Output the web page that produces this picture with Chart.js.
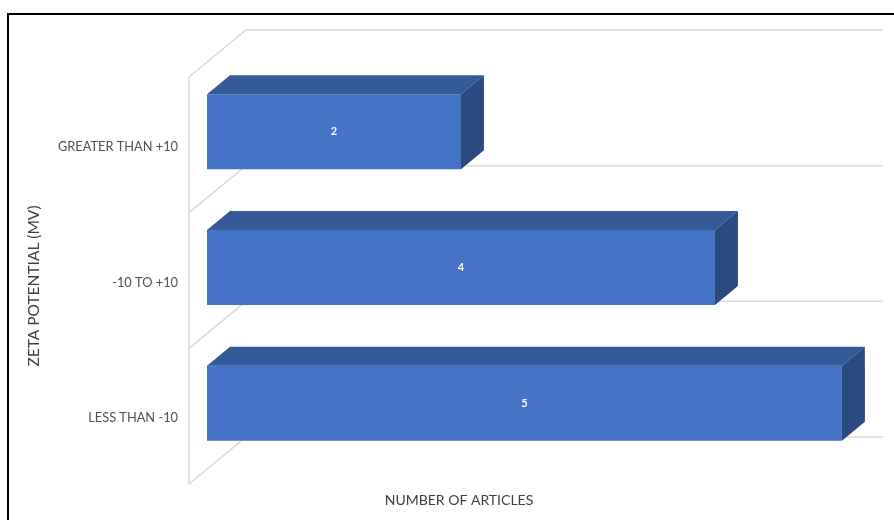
<!DOCTYPE html>
<html>
<head>
<meta charset="utf-8">
<script src="https://cdn.jsdelivr.net/npm/chart.js@4.4.1/dist/chart.umd.min.js"></script>
<style>
  html, body { margin: 0; padding: 0; background: #fff; }
  #wrap { width: 894px; height: 520px; }
</style>
</head>
<body>
<div id="wrap"><canvas id="zetaChart" width="894" height="520"></canvas></div>
<script>
// categories top to bottom, as in the picture
const categories = ["GREATER THAN +10", "-10 TO +10", "LESS THAN -10"];
const articleCounts = [2, 4, 5];
const xTitle = "NUMBER OF ARTICLES";
const yTitle = "ZETA POTENTIAL (MV)";

const FRONT = "#4472C4";
const TOP = "#345A97";
const SIDE = "#2B4A80";
const WALL = "#D9D9D9";

// fake 3d: walls, bar faces, labels, titles
const threeD = {
  id: "threeD",
  beforeDraw(chart) {
    const ctx = chart.ctx;
    ctx.save();
    ctx.fillStyle = "#000";
    ctx.fillRect(7, 13, 894 - 7, 2);
    ctx.fillRect(7, 13, 2, 520 - 13);
    ctx.restore();
  },
  beforeDatasetsDraw(chart) {
    const ctx = chart.ctx;
    const y = chart.scales.y;
    const area = chart.chartArea;
    const step = (y.bottom - y.top) / categories.length;
    const fx = area.left - 18, bx = area.left + 39;
    ctx.save();
    ctx.strokeStyle = WALL;
    ctx.lineWidth = 1.5;
    ctx.beginPath();
    ctx.moveTo(fx, y.top + 13);
    ctx.lineTo(fx, y.bottom + 13);
    for (let i = 0; i <= categories.length; i++) {
      const b = y.top + i * step;
      ctx.moveTo(fx, b + 13);
      ctx.lineTo(bx, b - 34);
      ctx.lineTo(883, b - 34);
    }
    ctx.stroke();
    ctx.restore();
  },
  afterDatasetsDraw(chart) {
    const ctx = chart.ctx;
    const dx = 23, dy = -19;
    ctx.save();
    chart.getDatasetMeta(0).data.forEach((bar, i) => {
      const x0 = bar.base, x1 = bar.x;
      const top = bar.y - bar.height / 2, bot = bar.y + bar.height / 2;
      ctx.fillStyle = TOP;
      ctx.beginPath();
      ctx.moveTo(x0, top);
      ctx.lineTo(x0 + dx, top + dy);
      ctx.lineTo(x1 + dx, top + dy);
      ctx.lineTo(x1, top);
      ctx.closePath();
      ctx.fill();
      ctx.fillStyle = SIDE;
      ctx.beginPath();
      ctx.moveTo(x1, top);
      ctx.lineTo(x1 + dx, top + dy);
      ctx.lineTo(x1 + dx, bot + dy);
      ctx.lineTo(x1, bot);
      ctx.closePath();
      ctx.fill();
      ctx.fillStyle = "#fff";
      ctx.font = "bold 11px Lato";
      ctx.textAlign = "center";
      ctx.textBaseline = "middle";
      ctx.fillText(String(articleCounts[i]), (x0 + x1) / 2, bar.y);
    });
    ctx.restore();
  },
  afterDraw(chart) {
    const ctx = chart.ctx;
    ctx.save();
    ctx.fillStyle = "#404040";
    ctx.font = "14px Lato";
    ctx.textAlign = "center";
    ctx.textBaseline = "middle";
    ctx.fillText(xTitle, 459, 500);
    ctx.font = "15.5px Lato";
    ctx.translate(34, 286);
    ctx.rotate(-Math.PI / 2);
    ctx.fillText(yTitle, 0, 0);
    ctx.restore();
  },
};

new Chart(document.getElementById("zetaChart"), {
  type: "bar",
  data: {
    labels: categories,
    datasets: [
      {
        label: xTitle,
        data: articleCounts,
        backgroundColor: FRONT,
        categoryPercentage: 1,
        barPercentage: 0.553,
      },
    ],
  },
  options: {
    indexAxis: "y",
    responsive: false,
    animation: false,
    layout: { padding: { left: 0, top: 64, right: 14, bottom: 49 } },
    plugins: {
      legend: { display: false },
      tooltip: { enabled: false },
    },
    scales: {
      x: {
        min: 0,
        max: 5.3,
        ticks: { display: false },
        grid: { display: false },
        border: { display: false },
        afterFit(scale) {
          scale.height = 0;
        },
      },
      y: {
        grid: { display: false, drawTicks: false },
        border: { display: false },
        ticks: {
          color: "#505050",
          font: { family: "Lato", size: 12.8 },
          padding: 29,
          labelOffset: 15,
        },
        afterFit(scale) {
          scale.width = 207;
        },
      },
    },
  },
  plugins: [threeD],
});
</script>
</body>
</html>
